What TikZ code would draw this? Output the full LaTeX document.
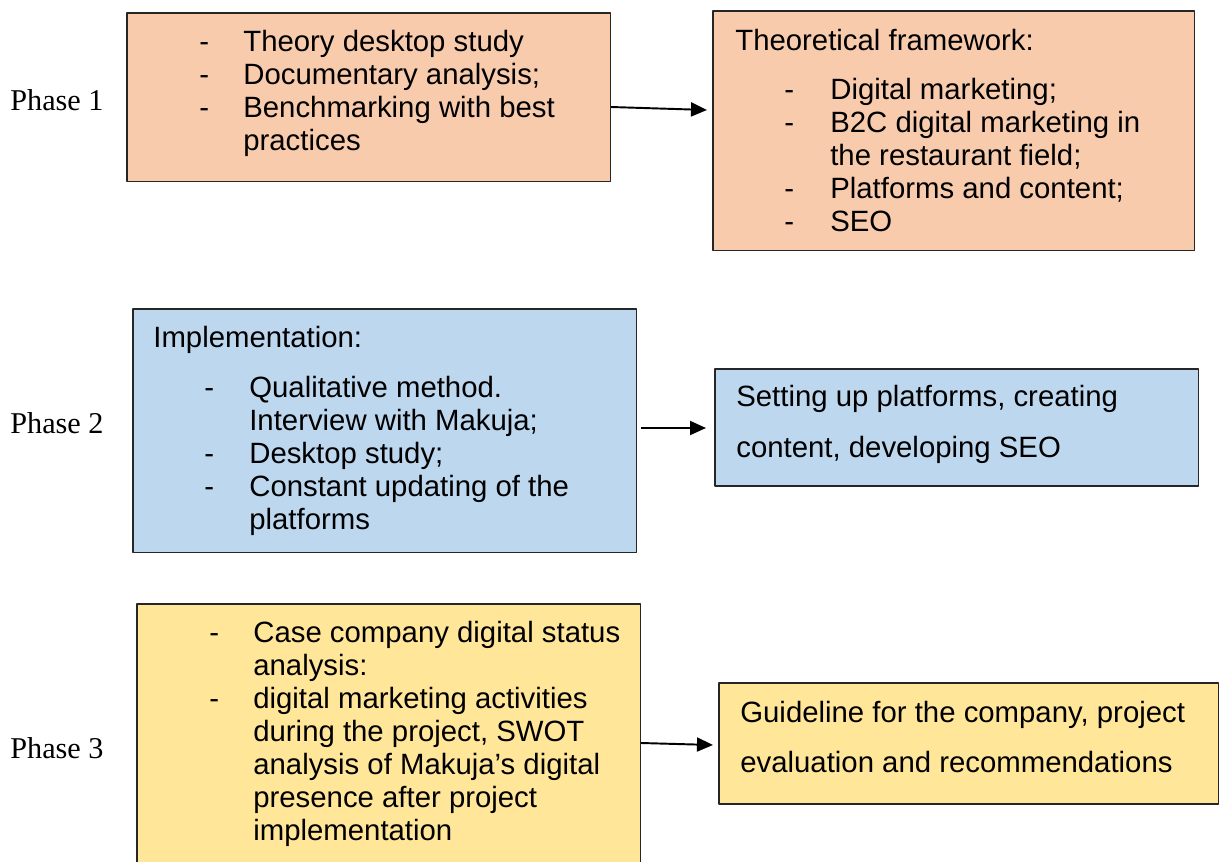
\documentclass[tikz,border=0pt]{standalone}
\usepackage{fontspec}
\setmainfont{Liberation Sans}
\newfontfamily\phasefont{Liberation Serif}
\usetikzlibrary{arrows.meta,calc}
\definecolor{peach}{HTML}{F8CBAD}
\definecolor{paleblue}{HTML}{BDD7EE}
\definecolor{paleyellow}{HTML}{FFE699}
\tikzset{
	box/.style={draw=black!85, line width=0.6pt, anchor=north west, inner sep=0pt, outer sep=0pt},
	txt/.style={anchor=north west, inner sep=0pt, font=\fontsize{16.7}{18.8}\selectfont},
	phase/.style={anchor=west, inner sep=0pt, font=\phasefont\fontsize{17.2}{20}\selectfont},
	arr/.style={line width=1.1pt, -{Triangle[length=0.32cm, width=0.28cm]}}
}
\begin{document}
\begin{tikzpicture}[x=0.02cm, y=-0.02cm, line join=round]
	\clip (0,0) rectangle (1225,862);
	% phase 1
	\node[phase] (ph1) at (10,100) {Phase 1};
	\node[box, fill=peach, minimum width=9.68cm, minimum height=3.38cm] (p1l) at (127,13) {};
	\node[box, fill=peach, minimum width=9.64cm, minimum height=4.8cm] (p1r) at (713,11) {};
	\node[txt] (p1lt) at ($(p1l.north west)+(72,15)$) {\begin{tabular}{@{}p{0.88cm}@{}l@{}}
		- & Theory desktop study\\
		- & Documentary analysis;\\
		- & Benchmarking with best\\
		  & practices
	\end{tabular}};
	\node[txt] (p1rt) at ($(p1r.north west)+(22,16)$) {\begin{tabular}{@{}p{0.98cm}@{}p{0.92cm}@{}l@{}}
		\multicolumn{3}{@{}l@{}}{Theoretical framework:}\\[9.1pt]
		& - & Digital marketing;\\
		& - & B2C digital marketing in\\
		&   & the restaurant field;\\
		& - & Platforms and content;\\
		& - & SEO
	\end{tabular}};
	\draw[arr] ($(p1l.north east)+(0,94)$) -- ($(p1r.north west)+(-6,99)$);
	% phase 2
	\node[phase] (ph2) at (10,423) {Phase 2};
	\node[box, fill=paleblue, minimum width=10.08cm, minimum height=4.88cm] (p2l) at (133,309) {};
	\node[box, fill=paleblue, minimum width=9.68cm, minimum height=2.34cm] (p2r) at (715,369) {};
	\node[txt] (p2lt) at ($(p2l.north west)+(20,15)$) {\begin{tabular}{@{}p{1.02cm}@{}p{0.9cm}@{}l@{}}
		\multicolumn{3}{@{}l@{}}{Implementation:}\\[9.6pt]
		& - & Qualitative method.\\
		&   & Interview with Makuja;\\
		& - & Desktop study;\\
		& - & Constant updating of the\\
		&   & platforms
	\end{tabular}};
	\node[txt] (p2rt) at ($(p2r.north west)+(21,14)$) {\begin{tabular}{@{}l@{}}
		Setting up platforms, creating\\[10.2pt]
		content, developing SEO
	\end{tabular}};
	\draw[arr] ($(p2l.north east)+(4,119)$) -- ($(p2r.north west)+(-9,59)$);
	% phase 3
	\node[phase] (ph3) at (10,748) {Phase 3};
	\node[box, fill=paleyellow, minimum width=10.08cm, minimum height=5.4cm] (p3l) at (137,604) {};
	\node[box, fill=paleyellow, minimum width=10cm, minimum height=2.42cm] (p3r) at (719,683) {};
	\node[txt] (p3lt) at ($(p3l.north west)+(72,15)$) {\begin{tabular}{@{}p{0.88cm}@{}l@{}}
		- & Case company digital status\\
		  & analysis:\\
		- & digital marketing activities\\
		  & during the project, SWOT\\
		  & analysis of Makuja’s digital\\
		  & presence after project\\
		  & implementation
	\end{tabular}};
	\node[txt] (p3rt) at ($(p3r.north west)+(21,16)$) {\begin{tabular}{@{}l@{}}
		Guideline for the company, project\\[9.6pt]
		evaluation and recommendations
	\end{tabular}};
	\draw[arr] ($(p3l.north east)+(0,139)$) -- ($(p3r.north west)+(-6,62)$);
\end{tikzpicture}
\end{document}
